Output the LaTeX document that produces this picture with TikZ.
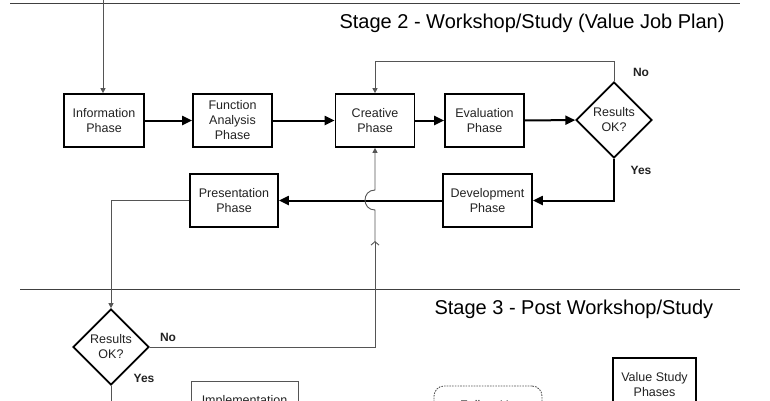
\documentclass[tikz,border=0pt]{standalone}
\usepackage{fontspec}
\setmainfont{Liberation Sans}
\usetikzlibrary{shapes.geometric,arrows.meta}
\definecolor{conncol}{HTML}{555555}
\definecolor{txtcol}{HTML}{222222}
\begin{document}
\begin{tikzpicture}[x=1pt,y=-1pt,
  phasebox/.style={draw=black, line width=1.7pt, minimum width=80pt, minimum height=53pt,
    align=center, inner sep=1pt, text=txtcol, font=\fontsize{12.5}{15}\selectfont},
  decision/.style={diamond, aspect=1, draw=black, line width=1.7pt, minimum width=76pt,
    minimum height=76pt, align=center, inner sep=0pt, text=txtcol, font=\fontsize{12.5}{15}\selectfont},
  mainarrow/.style={line width=2pt, -{Triangle[length=10pt,width=9pt]}},
  conn/.style={draw=conncol, line width=0.9pt},
  connarrow/.style={conn, -{Triangle[length=5pt,width=5pt]}},
  yesno/.style={font=\bfseries\fontsize{12}{14}\selectfont, text=txtcol},
  stagetitle/.style={font=\fontsize{20}{24}\selectfont, text=black},
  sepline/.style={draw=black!75, line width=1pt}
]
\useasboundingbox (0,0) rectangle (770,400);
\clip (0,0) rectangle (770,400);

% separators
\coordinate (s2l) at (10,3);
\coordinate (s2r) at (740,3);
\coordinate (s3l) at (20,289);
\coordinate (s3r) at (740,289);
\draw[sepline] (s2l) -- (s2r);
\draw[sepline] (s3l) -- (s3r);

% titles
\node[stagetitle, anchor=west] (t2) at (336,23) {Stage 2 - Workshop/Study (Value Job Plan)};
\node[stagetitle, anchor=west] (t3) at (431,309) {Stage 3 - Post Workshop/Study};

% nodes
\node[phasebox] (info) at (104,120.5) {Information\\Phase};
\node[phasebox, minimum width=79pt] (func) at (232.5,120.5) {Function\\Analysis\\Phase};
\node[phasebox, minimum width=79pt] (cre) at (375,120.5) {Creative\\Phase};
\node[phasebox, minimum width=79pt] (eval) at (484.5,120.5) {Evaluation\\Phase};
\node[decision] (d1) at (614,120) {Results\\OK?};
\node[phasebox, minimum width=89pt] (dev) at (487.5,200.5) {Development\\Phase};
\node[phasebox, minimum width=88pt] (pres) at (234,200.5) {Presentation\\Phase};
\node[decision] (d2) at (111,347) {Results\\OK?};

\node[phasebox, draw=conncol, line width=0.9pt, minimum width=107pt] (impl) at (244.5,407.5) {Implementation\\\phantom{Phase}};
\node[phasebox, draw=conncol, line width=0.9pt, dash pattern=on 1.6pt off 1.1pt, rounded corners=10pt, minimum width=108pt] (fup) at (488,412.5) {Follow Up\\\phantom{Phase}};
\node[phasebox, minimum width=83pt] (vsp) at (654.5,384.5) {Value Study\\Phases};

% labels
\node[yesno] (no1) at (641,72) {No};
\node[yesno] (yes1) at (641,170) {Yes};
\node[yesno] (no2) at (168,337) {No};
\node[yesno] (yes2) at (144,378) {Yes};

% main flow
\draw[mainarrow] (info) -- (func);
\draw[mainarrow] (func) -- (cre);
\draw[mainarrow] (cre) -- (eval);
\draw[mainarrow] (eval) -- (d1);
\draw[mainarrow] (d1.south) |- (dev.east);
\draw[mainarrow] (dev.west) -- (pres.east);

% entry from top
\coordinate (entry) at (103,-2);
\draw[connarrow] (entry) -- (info.north -| entry);

% loop back from d1
\draw[connarrow] (d1.north) -- ++(0,-20) -| (cre.north);

% presentation to decision 2
\draw[connarrow] (pres.west) -| (d2.north);

% No from d2 back to creative, with hop
\coordinate (chev) at (375,241);
\coordinate (hopb) at (375,210);
\coordinate (hopt) at (375,190);
\draw[conn, -{Straight Barb[length=3.5pt,width=8pt]}] (d2.east) -| (chev);
\draw[connarrow] (chev) -- (hopb) .. controls +(-13.3,0) and +(-13.3,0) .. (hopt) -- (cre.south);

% Yes from d2 down
\coordinate (d2down) at (111,410);
\draw[conn] (d2.south) -- (d2down);
\end{tikzpicture}
\end{document}
